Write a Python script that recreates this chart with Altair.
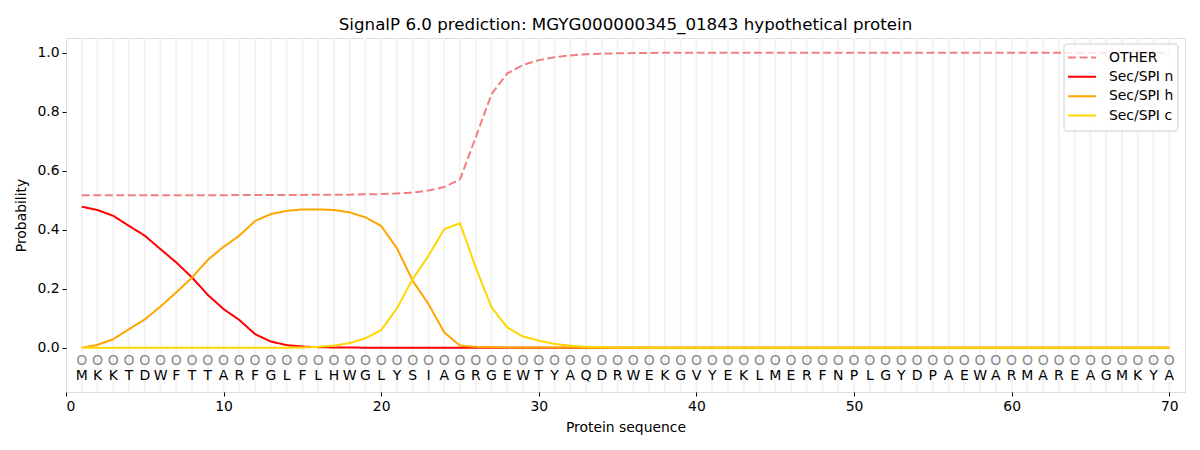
import altair as alt
import pandas as pd

sequence = list("MKKTDWFTTARFGLFLHWGLYSIAGRGEWTYAQDRWEKGVYEKLMERFNPLGYDPAEWARMAREAGMKYA")
positions = list(range(1, len(sequence) + 1))

other = [0.517, 0.517, 0.517, 0.517, 0.517, 0.517, 0.517, 0.517, 0.517, 0.517,
         0.518, 0.518, 0.518, 0.518, 0.518, 0.519, 0.519, 0.519, 0.520, 0.521,
         0.523, 0.526, 0.533, 0.545, 0.571, 0.714, 0.860, 0.930, 0.959, 0.975,
         0.985, 0.991, 0.995, 0.997, 0.998, 0.999, 0.999, 1.0, 1.0, 1.0,
         1.0, 1.0, 1.0, 1.0, 1.0, 1.0, 1.0, 1.0, 1.0, 1.0,
         1.0, 1.0, 1.0, 1.0, 1.0, 1.0, 1.0, 1.0, 1.0, 1.0,
         1.0, 1.0, 1.0, 1.0, 1.0, 1.0, 1.0, 1.0, 1.0, 1.0]
sec_n = [0.478, 0.467, 0.447, 0.413, 0.380, 0.334, 0.289, 0.238, 0.179, 0.131,
         0.094, 0.046, 0.021, 0.009, 0.004, 0.002, 0.001, 0.001, 0.0, 0.0,
         0.0, 0.0, 0.0, 0.0, 0.0, 0.0, 0.0, 0.0, 0.0, 0.0,
         0.0, 0.0, 0.0, 0.0, 0.0, 0.0, 0.0, 0.0, 0.0, 0.0,
         0.0, 0.0, 0.0, 0.0, 0.0, 0.0, 0.0, 0.0, 0.0, 0.0,
         0.0, 0.0, 0.0, 0.0, 0.0, 0.0, 0.0, 0.0, 0.0, 0.0,
         0.0, 0.0, 0.0, 0.0, 0.0, 0.0, 0.0, 0.0, 0.0, 0.0]
sec_h = [0.0, 0.010, 0.029, 0.063, 0.096, 0.140, 0.188, 0.238, 0.298, 0.342,
         0.380, 0.430, 0.453, 0.464, 0.469, 0.469, 0.467, 0.459, 0.442, 0.413,
         0.337, 0.227, 0.148, 0.052, 0.007, 0.003, 0.002, 0.001, 0.001, 0.001,
         0.001, 0.001, 0.0, 0.0, 0.0, 0.0, 0.0, 0.0, 0.0, 0.0,
         0.0, 0.0, 0.0, 0.0, 0.0, 0.0, 0.0, 0.0, 0.0, 0.0,
         0.0, 0.0, 0.0, 0.0, 0.0, 0.0, 0.0, 0.0, 0.0, 0.0,
         0.0, 0.0, 0.0, 0.0, 0.0, 0.0, 0.0, 0.0, 0.0, 0.0]
sec_c = [0.0, 0.0, 0.0, 0.0, 0.0, 0.0, 0.0, 0.0, 0.0, 0.0,
         0.0, 0.0, 0.0, 0.0, 0.001, 0.003, 0.007, 0.016, 0.032, 0.060,
         0.134, 0.233, 0.312, 0.402, 0.422, 0.272, 0.137, 0.069, 0.038, 0.024,
         0.013, 0.007, 0.003, 0.002, 0.001, 0.001, 0.0, 0.0, 0.0, 0.0,
         0.0, 0.0, 0.0, 0.0, 0.0, 0.0, 0.0, 0.0, 0.0, 0.0,
         0.0, 0.0, 0.0, 0.0, 0.0, 0.0, 0.0, 0.0, 0.0, 0.0,
         0.0, 0.0, 0.0, 0.0, 0.0, 0.0, 0.0, 0.0, 0.0, 0.0]

series_names = ["OTHER", "Sec/SPI n", "Sec/SPI h", "Sec/SPI c"]
series_values = [other, sec_n, sec_h, sec_c]
series_colors = ["#f08080", "#ff0000", "#ffa500", "#ffd700"]
series_dash = [[8, 3.5], [1, 0], [1, 0], [1, 0]]
x_ticks = [0, 10, 20, 30, 40, 50, 60, 70]
y_ticks = [0.0, 0.2, 0.4, 0.6, 0.8, 1.0]

rows = []
for order, (name, vals) in enumerate(zip(series_names, series_values)):
    for p, v in zip(positions, vals):
        rows.append({"pos": p, "prob": v, "series": name, "order": order})
lines_df = pd.DataFrame(rows)
seq_df = pd.DataFrame({"pos": positions, "aa": sequence, "cls": ["O"] * len(sequence)})
legend_df = pd.DataFrame({"series": series_names, "idx": list(range(len(series_names)))})
box_df = pd.DataFrame({"k": [0]})

FONT = "DejaVu Sans"
xscale = alt.Scale(domain=[0, 71], nice=False, zero=False)
yscale = alt.Scale(domain=[-0.15, 1.05], nice=False, zero=False)
color_scale = alt.Scale(domain=series_names, range=series_colors)
dash_scale = alt.Scale(domain=series_names, range=series_dash)

grid = alt.Chart(seq_df).mark_rule(color="#f3f3f3", strokeWidth=2).encode(
    x=alt.X("pos:Q", scale=xscale),
)

lines = alt.Chart(lines_df).mark_line(strokeWidth=2, clip=True).encode(
    x=alt.X("pos:Q", scale=xscale,
            axis=alt.Axis(values=x_ticks, title="Protein sequence", grid=False,
                          format="d", tickColor="black", domain=False,
                          labelFontSize=13.9, titleFontSize=13.9, titleFontWeight="normal",
                          labelColor="black", titleColor="black", tickSize=4,
                          labelPadding=3, titlePadding=8, labelFont=FONT, titleFont=FONT)),
    y=alt.Y("prob:Q", scale=yscale,
            axis=alt.Axis(values=y_ticks, title="Probability", grid=False, format=".1f",
                          tickColor="black", domain=False,
                          labelFontSize=13.9, titleFontSize=13.9, titleFontWeight="normal",
                          labelColor="black", titleColor="black", tickSize=4,
                          labelPadding=3, titlePadding=8, labelFont=FONT, titleFont=FONT)),
    color=alt.Color("series:N", scale=color_scale, legend=None),
    strokeDash=alt.StrokeDash("series:N", scale=dash_scale, legend=None),
    order="order:Q",
    detail="series:N",
)

circles = alt.Chart(seq_df).mark_text(fontSize=14, font=FONT, color="#8a8a8a",
                                      baseline="middle").encode(
    x=alt.X("pos:Q", scale=xscale),
    y=alt.datum(-0.044, scale=yscale),
    text="cls:N",
)

letters = alt.Chart(seq_df).mark_text(fontSize=14, font=FONT, color="black",
                                      baseline="middle").encode(
    x=alt.X("pos:Q", scale=xscale),
    y=alt.datum(-0.097, scale=yscale),
    text="aa:N",
)

main = alt.layer(grid, lines, circles, letters)

# legend (drawn as marks, matplotlib-style box in upper right)
leg_y = alt.Y("idx:Q", scale=alt.Scale(domain=[0, 3], range=[19.5, 77.5],
                                       nice=False, zero=False), axis=None)
leg_box = alt.Chart(box_df).mark_rect(fill="white", fillOpacity=0.8, stroke="#d0d0d0",
                                      strokeWidth=1, cornerRadius=3).encode(
    x=alt.value(998), x2=alt.value(1112), y=alt.value(6), y2=alt.value(93),
)
leg_sym = alt.Chart(legend_df).mark_rule(strokeWidth=2).encode(
    x=alt.value(1002), x2=alt.value(1030), y=leg_y,
    color=alt.Color("series:N", scale=color_scale, legend=None),
    strokeDash=alt.StrokeDash("series:N", scale=dash_scale, legend=None),
)
leg_txt = alt.Chart(legend_df).mark_text(align="left", baseline="middle", fontSize=13.9,
                                         font=FONT, color="black").encode(
    x=alt.value(1043), y=leg_y, text="series:N",
)
legend = alt.layer(leg_box, leg_sym, leg_txt)

chart = alt.layer(main, legend).resolve_scale(y="independent").properties(
    width=1119,
    height=354,
    title=alt.TitleParams("SignalP 6.0 prediction: MGYG000000345_01843 hypothetical protein",
                          fontSize=16.7, font=FONT, fontWeight="normal", color="black",
                          offset=3),
    autosize=alt.AutoSizeParams(type="none"),
    padding={"left": 58, "top": 30, "right": 7, "bottom": 50},
).configure_view(stroke="black", strokeWidth=1).configure(background="white")

chart.save("out.html", embed_options={"renderer": "svg", "actions": False})
